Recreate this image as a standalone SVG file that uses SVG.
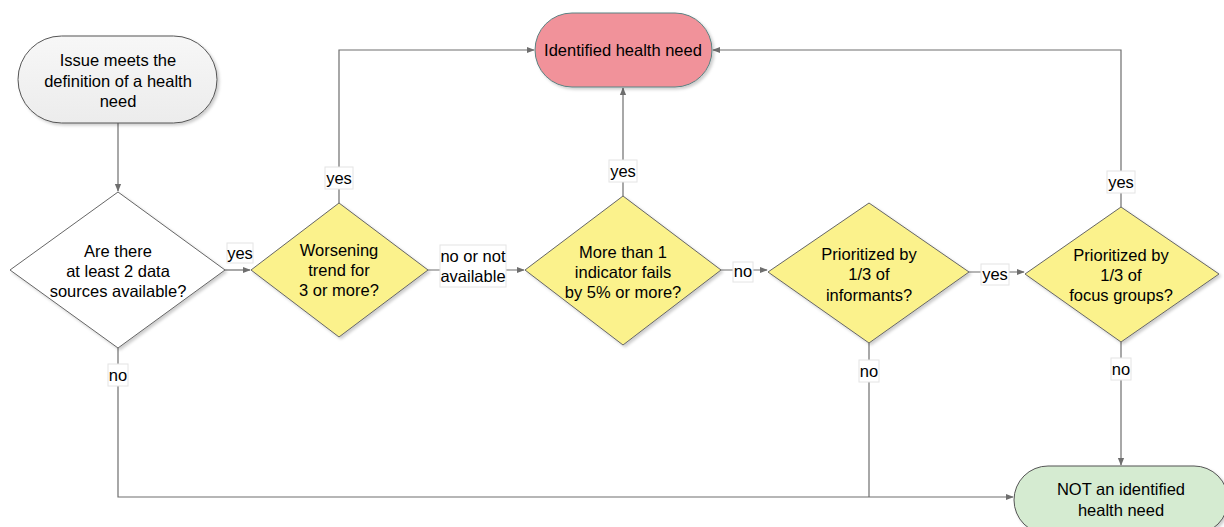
<svg xmlns="http://www.w3.org/2000/svg" width="1224" height="527" viewBox="0 0 1224 527">
<defs>
<style>
text{font-family:"Liberation Sans",Arial,sans-serif;font-size:16.5px;fill:#000;text-anchor:middle;dominant-baseline:central}
.edge{fill:none;stroke:#6e6e6e;stroke-width:1.2}
.dia{fill:#FBF28C;stroke:#666;stroke-width:1}
.lbl{fill:#fff;stroke:#e4e4e4;stroke-width:1}
</style>
<marker id="arr" viewBox="0 0 10 10" refX="9" refY="5" markerWidth="8" markerHeight="8" orient="auto" markerUnits="userSpaceOnUse">
<path d="M0,1 L10,5 L0,9 z" fill="#6e6e6e"/>
</marker>
<linearGradient id="g1" x1="0" y1="0" x2="0" y2="1">
<stop offset="0" stop-color="#f7f7f7"/><stop offset="1" stop-color="#ececec"/>
</linearGradient>
<filter id="sh" x="-10%" y="-10%" width="130%" height="130%">
<feDropShadow dx="2" dy="2" stdDeviation="1.5" flood-color="#000" flood-opacity="0.2"/>
</filter>
</defs>
<rect width="1224" height="527" fill="#fff"/>

<g id="connectors">
<path class="edge" d="M118,123 V191" marker-end="url(#arr)"/>
<path class="edge" d="M225,270 H250" marker-end="url(#arr)"/>
<path class="edge" d="M339,203 V50 H534" marker-end="url(#arr)"/>
<path class="edge" d="M428,270 H524" marker-end="url(#arr)"/>
<path class="edge" d="M623,196 V88" marker-end="url(#arr)"/>
<path class="edge" d="M721,270 H767" marker-end="url(#arr)"/>
<path class="edge" d="M969,272 H1024" marker-end="url(#arr)"/>
<path class="edge" d="M1121,207 V50 H713" marker-end="url(#arr)"/>
<path class="edge" d="M1121,342 V465" marker-end="url(#arr)"/>
<path class="edge" d="M869,343 V497"/>
<path class="edge" d="M118,348 V497 H1013" marker-end="url(#arr)"/>
<rect class="lbl" x="227" y="243" width="26" height="20"/><text x="240" y="253">yes</text>
<rect class="lbl" x="325" y="167" width="28" height="22"/><text x="339" y="178">yes</text>
<rect class="lbl" x="440" y="245" width="66" height="42"/><text x="473" y="256">no or not</text><text x="473" y="276">available</text>
<rect class="lbl" x="609" y="160" width="28" height="22"/><text x="623" y="171">yes</text>
<rect class="lbl" x="733" y="262" width="20" height="20"/><text x="743" y="271">no</text>
<rect class="lbl" x="981" y="264" width="28" height="21"/><text x="995" y="274">yes</text>
<rect class="lbl" x="1107" y="171" width="28" height="22"/><text x="1121" y="182">yes</text>
<rect class="lbl" x="1111" y="358" width="20" height="22"/><text x="1121" y="369">no</text>
<rect class="lbl" x="859" y="360" width="20" height="22"/><text x="869" y="371">no</text>
<rect class="lbl" x="108" y="364" width="20" height="22"/><text x="118" y="375">no</text>
</g>

<g id="start">
<rect x="18" y="36" width="199" height="87" rx="43.5" fill="url(#g1)" stroke="#555" stroke-width="1" filter="url(#sh)"/>
<text x="118" y="60">Issue meets the</text>
<text x="118" y="81">definition of a health</text>
<text x="118" y="101">need</text>
</g>

<g id="identified">
<rect x="535" y="13" width="177" height="74" rx="37" fill="#F1929A" stroke="#5b8282" stroke-width="1" filter="url(#sh)"/>
<text x="623" y="50">Identified health need</text>
</g>

<g id="d1">
<polygon points="118,192 225,270 118,348 10,270" fill="#fff" stroke="#666" stroke-width="1" filter="url(#sh)"/>
<text x="118" y="251">Are there</text>
<text x="118" y="271">at least 2 data</text>
<text x="118" y="291">sources available?</text>
</g>

<g id="d2">
<polygon class="dia" points="339,203 428,270 339,337 251,270" filter="url(#sh)"/>
<text x="339" y="250">Worsening</text>
<text x="339" y="270">trend for</text>
<text x="339" y="290">3 or more?</text>
</g>

<g id="d3">
<polygon class="dia" points="623,196 721,270 623,345 525,270" filter="url(#sh)"/>
<text x="623" y="252">More than 1</text>
<text x="623" y="272">indicator fails</text>
<text x="623" y="292">by 5% or more?</text>
</g>

<g id="d4">
<polygon class="dia" points="869,203 969,272 869,343 768,272" filter="url(#sh)"/>
<text x="869" y="254">Prioritized by</text>
<text x="869" y="274">1/3 of</text>
<text x="869" y="295">informants?</text>
</g>

<g id="d5">
<polygon class="dia" points="1121,207 1219,274 1121,342 1025,274" filter="url(#sh)"/>
<text x="1121" y="255">Prioritized by</text>
<text x="1121" y="275">1/3 of</text>
<text x="1121" y="295">focus groups?</text>
</g>

<g id="not">
<rect x="1014" y="466" width="214" height="68" rx="34" fill="#D5EBD1" stroke="#555" stroke-width="1" filter="url(#sh)"/>
<text x="1121" y="489">NOT an identified</text>
<text x="1121" y="510">health need</text>
</g>
</svg>
